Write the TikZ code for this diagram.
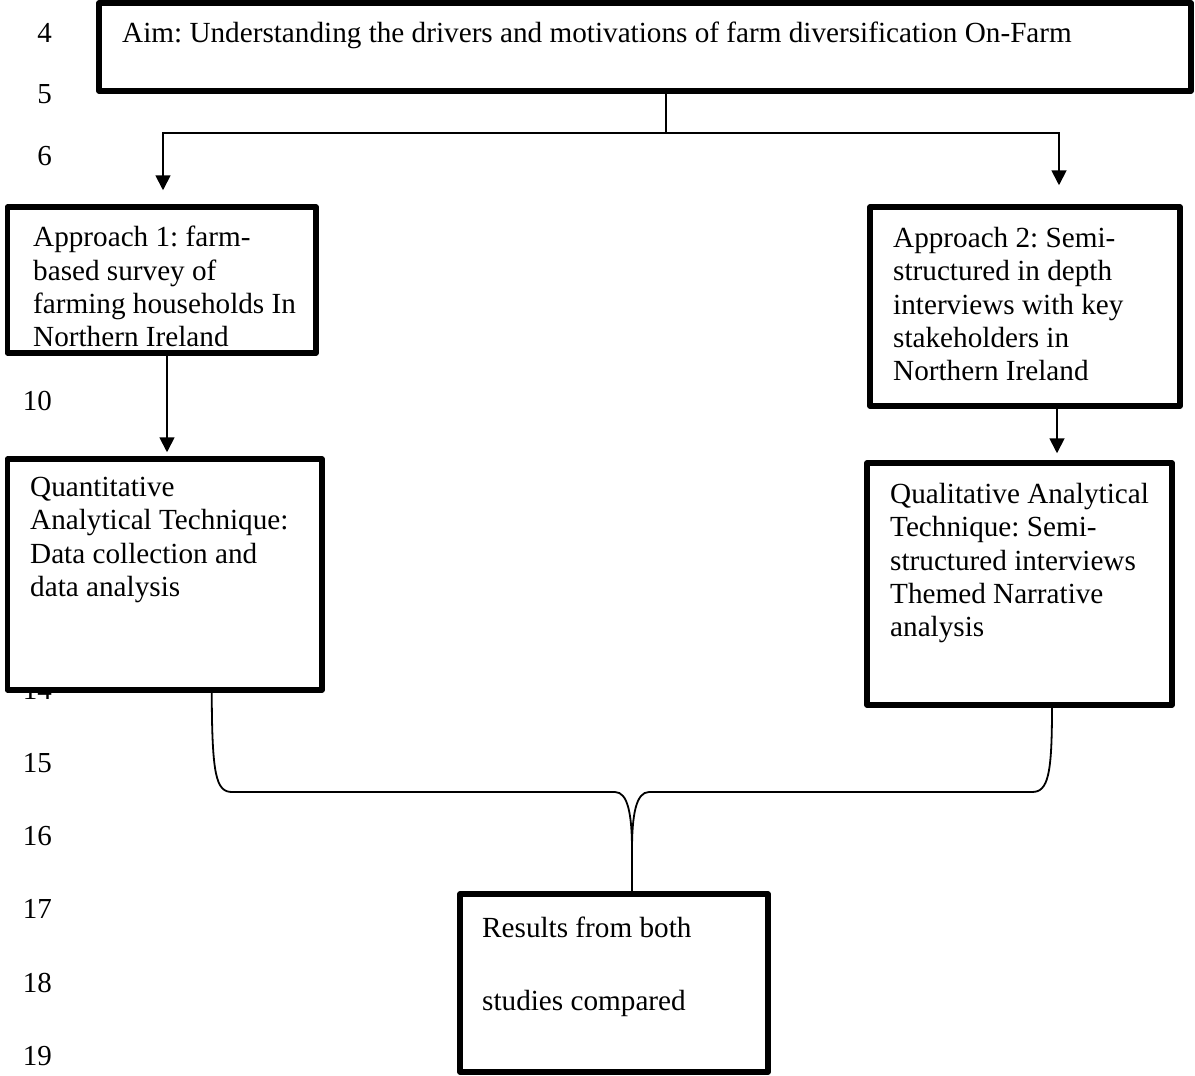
\documentclass[tikz,border=0pt]{standalone}
\usepackage{fontspec}
\setmainfont{Liberation Serif}
\usetikzlibrary{arrows.meta,calc}
\begin{document}
\frenchspacing
\begin{tikzpicture}[x=1pt,y=-1pt,
  box/.style={draw, line width=5.5pt, line join=round, fill=white, inner sep=0pt},
  txt/.style={anchor=north west, inner sep=0pt, align=left, font=\fontsize{29.2pt}{33.3pt}\selectfont},
  num/.style={anchor=base east, inner sep=0pt, font=\fontsize{29pt}{33.3pt}\selectfont},
  conn/.style={line width=1.8pt},
  arr/.style={line width=1.8pt, -{Triangle[width=15pt,length=15pt]}}]
\useasboundingbox (0,0) rectangle (1195,1076);
\fill[white] (0,0) rectangle (1195,1076);

% line numbers
\node[num] (n4) at (52,42) {4};
\node[num] (n5) at (52,103) {5};
\node[num] (n6) at (52,165) {6};
\node[num] (n10) at (52,410) {10};
\node[num] (n14) at (52,699) {14};
\node[num] (n15) at (52,772) {15};
\node[num] (n16) at (52,845) {16};
\node[num] (n17) at (52,918) {17};
\node[num] (n18) at (52,992) {18};
\node[num] (n19) at (52,1065) {19};

% boxes
\node[box, minimum width=1092pt, minimum height=88pt] (aim) at (645,47) {};
\node[box, minimum width=308.5pt, minimum height=146pt] (app1) at (161.75,280) {};
\node[box, minimum width=310pt, minimum height=199pt] (app2) at (1025,306.5) {};
\node[box, minimum width=314.5pt, minimum height=231pt] (quant) at (164.75,574.5) {};
\node[box, minimum width=305pt, minimum height=242pt] (qual) at (1019.5,584) {};
\node[box, minimum width=308pt, minimum height=178pt] (res) at (614,983) {};

% texts
\node[txt] (aimt) at (122,22) {Aim: Understanding the drivers and motivations of farm diversification On-Farm};
\node[txt] (app1t) at (33,226) {Approach 1: farm-\\based survey of\\farming households In\\Northern Ireland};
\node[txt] (app2t) at (893,227) {Approach 2: Semi-\\structured in depth\\interviews with key\\stakeholders in\\Northern Ireland};
\node[txt] (quantt) at (30,477) {Quantitative\\Analytical Technique:\\Data collection and\\data analysis};
\node[txt] (qualt) at (890,483) {Qualitative Analytical\\Technique: Semi-\\structured interviews\\Themed Narrative\\analysis};
\node[txt, font=\fontsize{29.2pt}{73pt}\selectfont] (rest) at (482,917) {Results from both\\studies compared};

% top connectors
\coordinate (split) at (666,133);
\coordinate (a1s) at ($(app1.south)+(5.25,0)$);
\coordinate (a2s) at ($(app2.south)+(32,0)$);
\draw[conn] (aim.south -| split) -- (split);
\draw[arr, shorten >=14pt] (split) -| ($(app1.north)+(1.25,0)$);
\draw[arr, shorten >=19pt] (split) -| ($(app2.north)+(34,0)$);
\draw[arr, shorten >=4pt] (a1s) -- (a1s |- quant.north);
\draw[arr, shorten >=7pt] (a2s) -- (a2s |- qual.north);

% bottom brace connector
\coordinate (meet) at (632,850);
\draw[conn] ($(quant.south)+(47,0)$) .. controls (212,775) and (216,792) .. (232,792)
  -- (615,792) .. controls (628,792) and (632,815) .. (meet) -- ($(res.north)+(18,0)$);
\draw[conn] ($(qual.south)+(32.5,0)$) .. controls (1052,775) and (1048,792) .. (1032,792)
  -- (649,792) .. controls (636,792) and (632,815) .. (meet);
\end{tikzpicture}
\end{document}
